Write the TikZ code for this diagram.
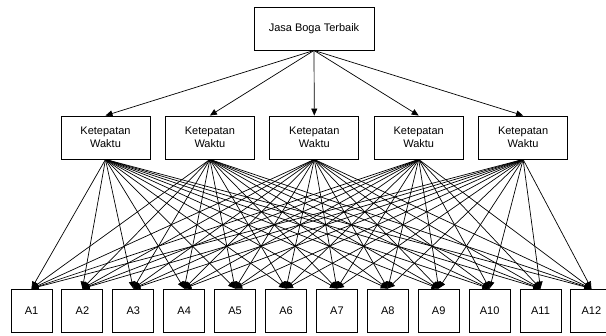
\documentclass[tikz,border=0pt]{standalone}
\usepackage{fontspec}
\setmainfont{Liberation Sans}
\usepackage{tikz}
\usetikzlibrary{arrows.meta}

\tikzset{
  goalbox/.style={draw, line width=0.9pt, minimum width=120pt, minimum height=43pt, inner sep=0pt, font=\fontsize{11}{12}\selectfont},
  critbox/.style={draw, line width=0.9pt, minimum width=89pt, minimum height=43pt, inner sep=0pt, align=center, font=\fontsize{11}{13}\selectfont},
  altbox/.style={draw, line width=0.9pt, minimum width=41pt, minimum height=43pt, inner sep=0pt, font=\fontsize{11}{12}\selectfont},
  link/.style={line width=0.7pt, -{Triangle[length=7pt,width=6pt]}}
}

\begin{document}
\begin{tikzpicture}[x=1pt, y=1pt]
    \useasboundingbox (0,0) rectangle (606,336);
    % goal
    \node[goalbox] (goal) at (314,307.5) {Jasa Boga Terbaik};
    % criteria
    \foreach \i in {1,...,5}{
      \node[critbox] (k\i) at ({105.5+104.4*(\i-1)},198.5) {Ketepatan\\Waktu};
    }
    % alternatives
    \foreach \j in {1,...,12}{
      \node[altbox] (a\j) at ({31.5+50.9*(\j-1)},25.5) {A\j};
    }
    % goal to criteria
    \foreach \i in {1,...,5}{
      \draw[link] (goal.south) -- (k\i.north);
    }
    % criteria to alternatives
    \foreach \i in {1,...,5}{
      \foreach \j in {1,...,12}{
        \draw[link] (k\i.south) -- (a\j.north);
      }
    }
\end{tikzpicture}
\end{document}
